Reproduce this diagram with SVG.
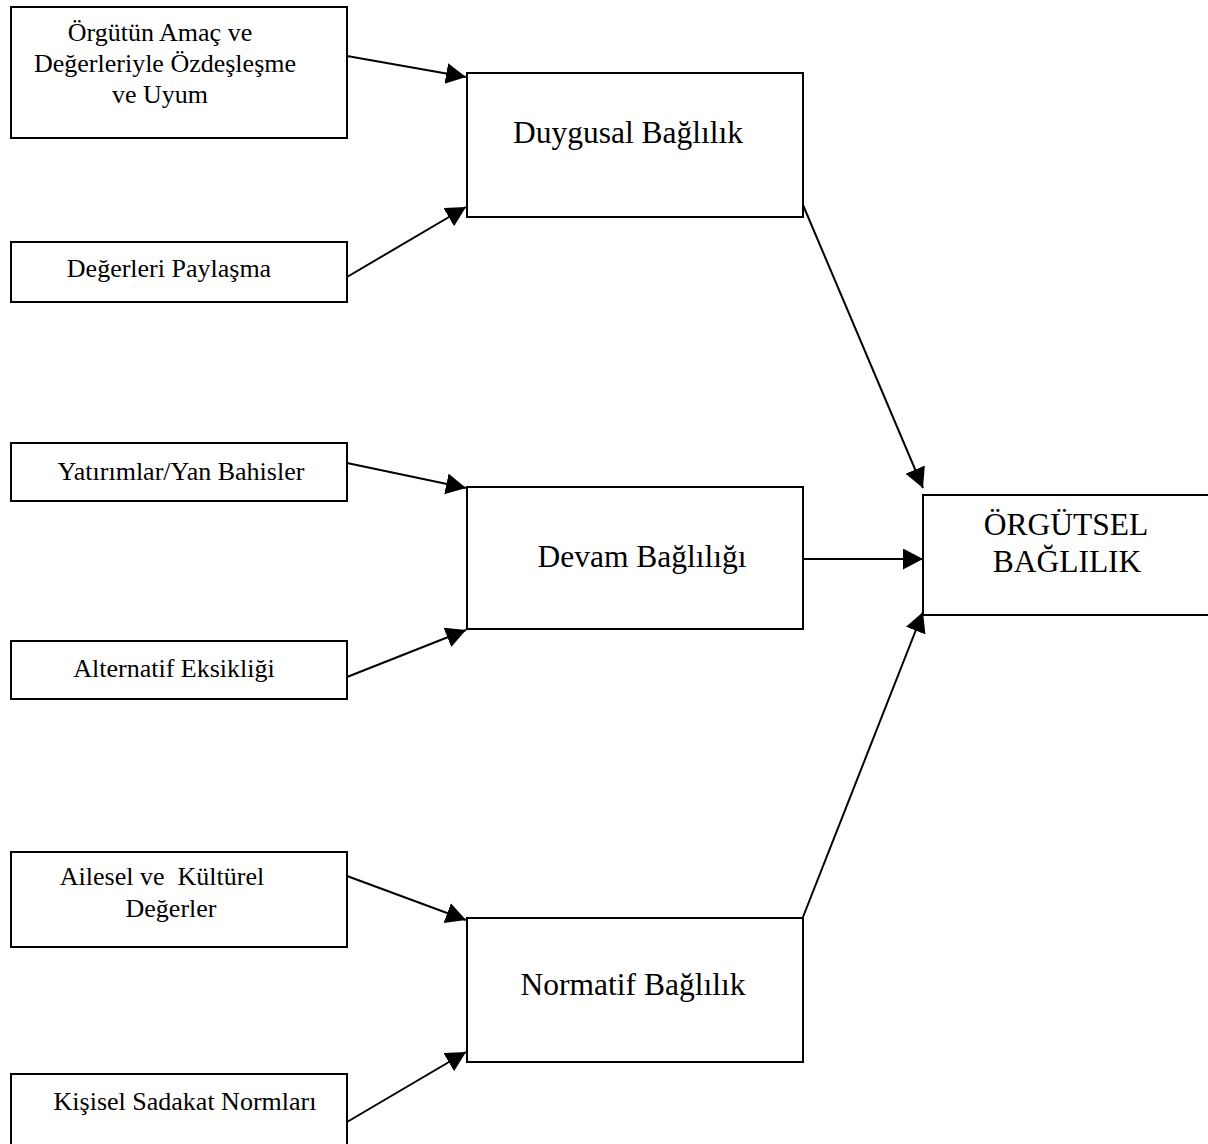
<svg xmlns="http://www.w3.org/2000/svg" width="1208" height="1144" viewBox="0 0 1208 1144">
<style>
.box{fill:#fff;stroke:#000;stroke-width:2}
.t{font-family:"Liberation Serif","Times New Roman",serif;fill:#000;text-anchor:middle;white-space:pre}
.s{font-size:26px}
.b{font-size:31.5px}
.c{stroke:#000;stroke-width:2;fill:none;marker-end:url(#ah)}
</style>
<defs>
<marker id="ah" markerUnits="userSpaceOnUse" markerWidth="22" markerHeight="22" refX="20" refY="10.5" orient="auto">
<path d="M0,0 L20,10.5 L0,21 z" fill="#000"/>
</marker>
</defs>
<rect width="1208" height="1144" fill="#fff"/>
<g id="connectors">
<line class="c" x1="347" y1="56" x2="466" y2="77"/>
<line class="c" x1="347" y1="277" x2="466" y2="207"/>
<line class="c" x1="347" y1="463" x2="466" y2="488"/>
<line class="c" x1="347" y1="677" x2="466" y2="630"/>
<line class="c" x1="347" y1="876" x2="466" y2="920"/>
<line class="c" x1="347" y1="1122" x2="466" y2="1052"/>
<line class="c" x1="803" y1="205" x2="923" y2="488"/>
<line class="c" x1="803" y1="559" x2="923" y2="559"/>
<line class="c" x1="803" y1="917" x2="923" y2="612"/>
</g>
<g id="n-orgutun">
<rect class="box" x="11" y="7" width="336" height="131"/>
<text class="t s" x="160" y="41">Örgütün Amaç ve</text>
<text class="t s" x="165" y="72">Değerleriyle Özdeşleşme</text>
<text class="t s" x="160" y="103">ve Uyum</text>
</g>
<g id="n-degerleri">
<rect class="box" x="11" y="242" width="336" height="60"/>
<text class="t s" x="169" y="277">Değerleri Paylaşma</text>
</g>
<g id="n-yatirimlar">
<rect class="box" x="11" y="443" width="336" height="58"/>
<text class="t s" x="181" y="480">Yatırımlar/Yan Bahisler</text>
</g>
<g id="n-alternatif">
<rect class="box" x="11" y="641" width="336" height="58"/>
<text class="t s" x="174" y="677">Alternatif Eksikliği</text>
</g>
<g id="n-ailesel">
<rect class="box" x="11" y="852" width="336" height="95"/>
<text class="t s" x="162" y="885">Ailesel ve  Kültürel</text>
<text class="t s" x="171" y="917">Değerler</text>
</g>
<g id="n-kisisel">
<rect class="box" x="11" y="1074" width="336" height="80"/>
<text class="t s" x="185" y="1110">Kişisel Sadakat Normları</text>
</g>
<g id="n-duygusal">
<rect class="box" x="467" y="73" width="336" height="144"/>
<text class="t b" x="628" y="143">Duygusal Bağlılık</text>
</g>
<g id="n-devam">
<rect class="box" x="467" y="487" width="336" height="142"/>
<text class="t b" x="642" y="567">Devam Bağlılığı</text>
</g>
<g id="n-normatif">
<rect class="box" x="467" y="918" width="336" height="144"/>
<text class="t b" x="633" y="995">Normatif Bağlılık</text>
</g>
<g id="n-orgutsel">
<rect class="box" x="923" y="495" width="300" height="120"/>
<text class="t b" x="1066" y="535">ÖRGÜTSEL</text>
<text class="t b" x="1067" y="572">BAĞLILIK</text>
</g>
</svg>
